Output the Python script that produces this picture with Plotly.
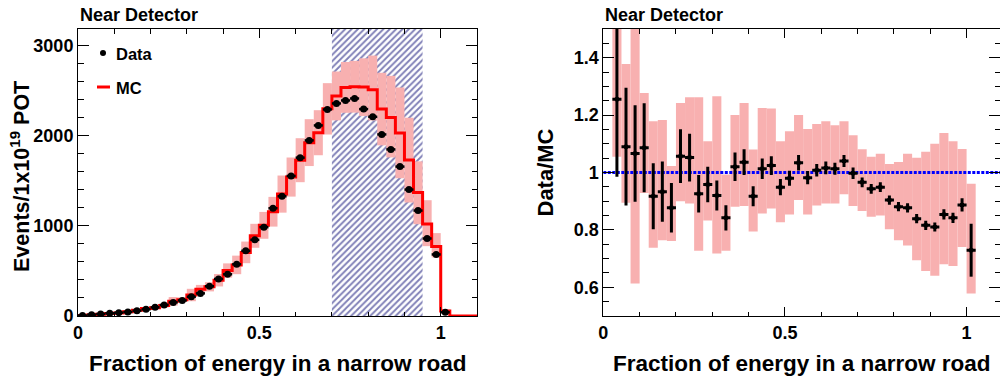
import numpy as np
import plotly.graph_objects as go

# ---- binning: 44 bins of width 0.025 on [0, 1.1] ----
bin_width = 0.025
n_bins = 44
bin_lo = np.arange(n_bins) * bin_width
bin_centers = bin_lo + bin_width / 2
x_max = 1.1

# ---- Near Detector spectrum (events / 1e19 POT) ----
data_events = [5, 15, 22, 30, 37, 44, 59, 74, 96, 122, 151, 173, 214, 251, 330,
               411, 463, 574, 723, 845, 986, 1196, 1329, 1554, 1757, 1949, 2115,
               2292, 2359, 2392, 2414, 2296, 2211, 2015, 1849, 1658, 1403, 1170,
               860, 683, 41]
mc_events = [6, 12, 20, 28, 34, 48, 63, 84, 91, 116, 163, 181, 233, 298, 324, 397,
             505, 567, 706, 890, 1006, 1157, 1353, 1542, 1729, 1924, 2034, 2299,
             2442, 2537, 2544, 2540, 2510, 2298, 2204, 2032, 1732, 1370, 1021, 770,
             56, 0, 0, 0]
mc_band_low = [5, 10, 16, 16, 29, 36, 49, 71, 76, 95, 116, 155, 164, 251, 273, 328,
               426, 464, 586, 757, 857, 992, 1147, 1325, 1485, 1664, 1784, 2014,
               2171, 2255, 2257, 2220, 2170, 1894, 1760, 1530, 1259, 1019, 775, 650, 41]
mc_band_high = [7, 14, 24, 40, 39, 60, 77, 97, 106, 137, 210, 207, 302, 345, 375, 466,
                584, 670, 826, 1023, 1155, 1322, 1559, 1759, 1973, 2184, 2284, 2584,
                2713, 2819, 2831, 2860, 2890, 2699, 2665, 2535, 2200, 1716, 1285, 920, 71]

# excluded region (hatched)
cut_lo, cut_hi = 0.70, 0.95

# ---- Data/MC ratio, bins 1..40 ----
ratio = [1.255, 1.090, 1.066, 1.086, 0.917, 0.933, 0.877, 1.057, 1.052, 0.926,
         0.958, 0.920, 0.842, 1.020, 1.036, 0.917, 1.013, 1.024, 0.949, 0.980,
         1.034, 0.982, 1.008, 1.016, 1.013, 1.040, 0.997, 0.966, 0.943, 0.949,
         0.904, 0.881, 0.877, 0.839, 0.816, 0.810, 0.854, 0.842, 0.887, 0.729]
ratio_err = [0.270, 0.205, 0.168, 0.155, 0.115, 0.105, 0.086, 0.094, 0.083, 0.065,
             0.062, 0.052, 0.044, 0.050, 0.045, 0.035, 0.036, 0.033, 0.028, 0.026,
             0.027, 0.023, 0.022, 0.022, 0.021, 0.021, 0.020, 0.017, 0.017, 0.017,
             0.016, 0.016, 0.016, 0.016, 0.016, 0.016, 0.018, 0.018, 0.023, 0.092]
ratio_band_low = [1.055, 0.895, 0.613, 0.929, 0.738, 0.764, 0.761, 0.900, 0.892, 0.727,
                  0.833, 0.718, 0.727, 0.881, 0.883, 0.794, 0.857, 0.875, 0.827, 0.854,
                  0.904, 0.854, 0.885, 0.892, 0.892, 0.924, 0.883, 0.866, 0.846, 0.850,
                  0.802, 0.764, 0.746, 0.694, 0.657, 0.640, 0.680, 0.674, 0.740, 0.578]
ratio_band_high = [1.600, 1.378, 1.600, 1.277, 1.179, 1.183, 1.023, 1.242, 1.262, 1.262,
                   1.109, 1.266, 0.993, 1.200, 1.242, 1.080, 1.225, 1.223, 1.109, 1.144,
                   1.200, 1.152, 1.169, 1.179, 1.165, 1.179, 1.130, 1.081, 1.055, 1.065,
                   1.030, 1.037, 1.065, 1.051, 1.072, 1.100, 1.138, 1.109, 1.082, 0.961]

# ---- style ----
FONT = "Liberation Sans"
W, H = 1000, 379
BAND_COLOR = "#f8b0b0"
y_top_left = 3185


def px_x(p):
    return p / W


def px_y(p):
    return (H - p) / H


fig = go.Figure()

# ---- left panel ----
n_data = len(data_events)
fig.add_trace(go.Bar(
    x=[(cut_lo + cut_hi) / 2], y=[y_top_left], width=[cut_hi - cut_lo],
    marker=dict(color="rgba(0,0,0,0)", line=dict(width=0),
                pattern=dict(shape="/", fgcolor="#00006e", bgcolor="rgba(0,0,0,0)",
                             size=4.5, solidity=0.42)),
    xaxis="x", yaxis="y", showlegend=False, hoverinfo="skip"))

band_lo = np.array(mc_band_low)
band_hi = np.array(mc_band_high)
fig.add_trace(go.Bar(
    x=bin_centers[:len(band_lo)], y=band_hi - band_lo, base=band_lo, width=bin_width,
    marker=dict(color=BAND_COLOR, line=dict(width=0)),
    xaxis="x", yaxis="y", showlegend=False, hoverinfo="skip"))

fig.add_trace(go.Scatter(
    x=list(bin_lo) + [x_max], y=list(mc_events) + [mc_events[-1]],
    mode="lines", line=dict(color="#ff0000", width=3, shape="hv"),
    xaxis="x", yaxis="y", showlegend=False))

fig.add_trace(go.Scatter(
    x=bin_centers[:n_data], y=data_events, mode="markers",
    marker=dict(color="black", size=7),
    error_x=dict(type="constant", value=bin_width / 2, thickness=2.5, width=0, color="black"),
    xaxis="x", yaxis="y", showlegend=False))

# ---- right panel ----
r_lo = np.array(ratio_band_low)
r_hi = np.array(ratio_band_high)
r_x = bin_centers[1:1 + len(ratio)]
fig.add_trace(go.Bar(
    x=r_x, y=r_hi - r_lo, base=r_lo, width=bin_width,
    marker=dict(color=BAND_COLOR, line=dict(width=0)),
    xaxis="x2", yaxis="y2", showlegend=False, hoverinfo="skip"))

fig.add_trace(go.Scatter(
    x=[0, x_max], y=[1, 1], mode="lines",
    line=dict(color="#0000ff", width=3, dash="3px,1.5px"),
    xaxis="x2", yaxis="y2", showlegend=False))

fig.add_trace(go.Scatter(
    x=r_x, y=ratio, mode="markers",
    marker=dict(color="black", size=4, symbol="square"),
    error_x=dict(type="constant", value=bin_width / 2, thickness=3, width=0, color="black"),
    error_y=dict(type="data", array=ratio_err, thickness=3, width=0, color="black"),
    xaxis="x2", yaxis="y2", showlegend=False))

tickfont = dict(family=FONT, size=18, color="black", weight="bold")
common = dict(showline=True, linecolor="black", linewidth=1, mirror="allticks",
              ticks="inside", tickcolor="black", showgrid=False, zeroline=False,
              automargin=False, tickfont=tickfont)

y_dom = [px_y(316), px_y(29)]
fig.update_layout(
    width=W, height=H, margin=dict(l=0, r=0, t=0, b=0),
    paper_bgcolor="white", plot_bgcolor="white", barmode="overlay",
    xaxis=dict(domain=[px_x(78), px_x(477)], range=[0, x_max], anchor="y",
               tick0=0, dtick=0.5, ticklen=9,
               minor=dict(ticks="inside", ticklen=4.5, dtick=0.1, tickcolor="black", showgrid=False),
               **common),
    yaxis=dict(domain=y_dom, range=[0, y_top_left], anchor="x",
               tick0=0, dtick=1000, ticklen=11,
               minor=dict(ticks="inside", ticklen=5.5, dtick=200, tickcolor="black", showgrid=False),
               **common),
    xaxis2=dict(domain=[px_x(603.3), 1.0], range=[0, (1000 - 603.3) / 363.3], anchor="y2",
                tick0=0, dtick=0.5, ticklen=9,
                minor=dict(ticks="inside", ticklen=4.5, dtick=0.1, tickcolor="black", showgrid=False),
                **common),
    yaxis2=dict(domain=y_dom, range=[0.5, 1.5], anchor="x2",
                tick0=0, dtick=0.2, ticklen=11,
                minor=dict(ticks="inside", ticklen=5.5, dtick=0.05, tickcolor="black", showgrid=False),
                **common),
)


def label(text, x, y, size, xanchor="center", angle=0):
    fig.add_annotation(text=text, x=px_x(x), y=px_y(y), xref="paper", yref="paper",
                       xanchor=xanchor, yanchor="middle", showarrow=False, textangle=angle,
                       font=dict(family=FONT, size=size, color="black", weight="bold"))


# titles
label("Near Detector", 78, 14.5, 18, xanchor="left")
label("Near Detector", 603.3, 14.5, 18, xanchor="left")
label("Fraction of energy in a narrow road", 277.5, 363, 22.5)
label("Fraction of energy in a narrow road", 802, 363, 22.5)
label("Events/1x10<sup>19</sup> POT", 20.5, 176.5, 21.5, angle=-90)
label("Data/MC", 545, 172.5, 22, angle=-90)

# legend
fig.add_shape(type="circle", xref="paper", yref="paper",
              x0=px_x(100), x1=px_x(106), y0=px_y(56), y1=px_y(50),
              fillcolor="black", line=dict(width=0))
fig.add_shape(type="line", xref="paper", yref="paper",
              x0=px_x(97), x1=px_x(110), y0=px_y(87), y1=px_y(87),
              line=dict(color="#ff0000", width=3))
label("Data", 114, 54, 16.5, xanchor="left")
label("MC", 114, 88, 16.5, xanchor="left")

fig.write_html("out.html")
